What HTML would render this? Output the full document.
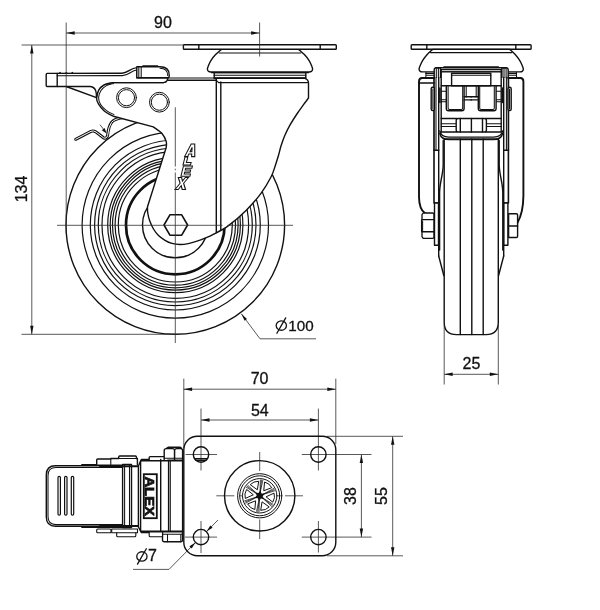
<!DOCTYPE html>
<html><head><meta charset="utf-8"><title>Caster drawing</title>
<style>
html,body{margin:0;padding:0;background:#fff;}
body{width:600px;height:610px;overflow:hidden;font-family:"Liberation Sans",sans-serif;}
svg{display:block;filter:grayscale(1);}
svg text{font-family:"Liberation Sans",sans-serif;fill:#111;}
.n{stroke:#111;stroke-width:0.3;}
.m{fill:none;stroke:#111;stroke-width:1.4;stroke-linecap:round;stroke-linejoin:round;}
.w{fill:#fff;stroke:#111;stroke-width:1.4;stroke-linecap:round;stroke-linejoin:round;}
.t{fill:none;stroke:#111;stroke-width:1.05;stroke-linecap:round;stroke-linejoin:round;}
.d{fill:none;stroke:#2e2e2e;stroke-width:0.8;}
.c{fill:none;stroke:#2e2e2e;stroke-width:0.8;}
</style></head><body>
<svg width="600" height="610" viewBox="0 0 600 610">
<rect x="0" y="0" width="600" height="610" fill="#fff"/>
<g id="side">
<circle class="w" cx="175.3" cy="225.0" r="109.3"/>
<circle class="m" cx="175.3" cy="225.0" r="93.2" style="stroke-width:1.2"/>
<circle class="m" cx="175.3" cy="225.0" r="85" style="stroke-width:1.2"/>
<circle class="m" cx="175.3" cy="225.0" r="80.7" style="stroke-width:1.2"/>
<circle class="m" cx="175.3" cy="225.0" r="77" style="stroke-width:1.2"/>
<circle class="m" cx="175.3" cy="225.0" r="73.3" style="stroke-width:1.2"/>
<circle class="m" cx="175.3" cy="225.0" r="67.6" style="stroke-width:1.2"/>
<circle class="m" cx="175.3" cy="225.0" r="65.1" style="stroke-width:1.2"/>
<circle class="m" cx="175.3" cy="225.0" r="62.8" style="stroke-width:1.2"/>
<circle class="m" cx="175.3" cy="225.0" r="60.2" style="stroke-width:1.2"/>
<circle class="m" cx="175.3" cy="225.0" r="57.0" style="stroke-width:1.2"/>
<circle class="m" cx="175.3" cy="225.0" r="49.3" style="stroke-width:2.7"/>
<circle class="m" cx="175.3" cy="225.0" r="32.8"/>
<path d="M75.7,139.3 L91,131.3 Q93.5,130.3 96,132 L103.5,137.8 Q106.6,139.3 107.6,135.5 Q108.3,127 111.5,122.4 Q114.5,118.8 123,117.6" fill="none" stroke="#111" stroke-width="3.0" stroke-linecap="round" stroke-linejoin="round"/>
<path d="M75.7,139.3 L91,131.3 Q93.5,130.3 96,132 L103.5,137.8 Q106.6,139.3 107.6,135.5 Q108.3,127 111.5,122.4 Q114.5,118.8 123,117.6" fill="none" stroke="#fff" stroke-width="1.0" stroke-linecap="round" stroke-linejoin="round"/>
<line x1="100.00" y1="124.70" x2="105.50" y2="131.80" stroke="#222" stroke-width="0.8"/>
<polygon points="106.60,133.40 101.80,130.17 104.63,127.96" fill="#111" stroke="none"/>
<path class="w" d="M112,82.6 L163.5,82.6 Q166.2,82.4 167.2,80.3 L216.3,80.3 L216.3,78.2 L304.5,78.2 Q308.3,79.5 308.5,83 L308.5,98 C307.67,99.12 305.43,102.03 303.50,104.70 C301.57,107.37 299.12,110.67 296.90,114.00 C294.68,117.33 292.20,121.15 290.20,124.70 C288.20,128.25 286.43,131.75 284.90,135.30 C283.37,138.85 282.05,142.72 281.00,146.00 C279.95,149.28 279.52,151.83 278.60,155.00 C277.68,158.17 276.77,161.33 275.50,165.00 C274.23,168.67 273.42,172.28 271.00,177.00 C268.58,181.72 265.20,187.68 261.00,193.30 C256.80,198.92 251.22,205.32 245.80,210.70 C240.38,216.08 233.92,221.65 228.50,225.60 C223.08,229.55 217.22,232.30 213.30,234.40 C209.38,236.50 207.72,237.07 205.00,238.20 C202.28,239.33 199.78,240.30 197.00,241.20 C194.22,242.10 191.13,243.05 188.30,243.60 C185.47,244.15 182.72,244.53 180.00,244.50 C177.28,244.47 174.50,244.10 172.00,243.40 C169.50,242.70 167.25,241.62 165.00,240.30 C162.75,238.98 160.42,237.38 158.50,235.50 C156.58,233.62 154.98,231.50 153.50,229.00 C152.02,226.50 150.57,223.25 149.60,220.50 C148.63,217.75 148.05,214.80 147.70,212.50 C147.35,210.20 147.53,207.67 147.50,206.70 L166.2,147.5 C166.20,146.50 166.90,143.83 166.20,141.50 C165.50,139.17 164.15,135.93 162.00,133.50 C159.85,131.07 154.75,128.00 153.30,126.90 L113.3,116.2 C111.83,115.37 106.95,113.20 104.50,111.20 C102.05,109.20 99.93,106.47 98.60,104.20 C97.27,101.93 96.48,99.97 96.50,97.60 C96.52,95.23 97.45,92.13 98.70,90.00 C99.95,87.87 101.78,86.03 104.00,84.80 C106.22,83.57 110.67,82.97 112.00,82.60Z"/>
<path class="t" d="M113.50,83.40 C112.33,83.77 108.58,84.42 106.50,85.60 C104.42,86.78 102.32,88.50 101.00,90.50 C99.68,92.50 98.67,95.25 98.60,97.60 C98.53,99.95 99.28,102.43 100.60,104.60 C101.92,106.77 104.27,108.93 106.50,110.60 C108.73,112.27 112.75,113.93 114.00,114.60"/>
<line x1="216.30" y1="80.30" x2="216.30" y2="232.50" class="m"/>
<line x1="220.80" y1="82.00" x2="220.80" y2="230.30" class="m"/>
<path class="t" d="M216.3,80.3 L218.5,82.4"/><path class="m" d="M218.5,82.6 L307.5,82.6"/>
<circle class="m" cx="126.5" cy="97.7" r="9.9" style="stroke-width:1.0"/>
<circle class="m" cx="126.5" cy="97.7" r="8.1" style="stroke-width:1.0"/>
<circle class="m" cx="159.4" cy="102.2" r="9.9" style="stroke-width:1.0"/>
<circle class="m" cx="159.4" cy="102.2" r="8.1" style="stroke-width:1.0"/>
<polygon class="w" points="187.60,225.00 181.70,235.22 169.90,235.22 164.00,225.00 169.90,214.78 181.70,214.78" style="stroke-width:1.6"/>
<path class="w" d="M47.2,73.4 L122,73.2 C128,73.2 130,68 137,67.6 L136.8,77.8 L168,77.8 L167.2,80.3 Q166.2,82.4 163.5,82.6 L112,82.6  C110.67,82.97 106.22,83.57 104.00,84.80 C101.78,86.03 99.95,87.87 98.70,90.00 C97.45,92.13 96.87,96.33 96.50,97.60 L66.2,86.5 L47.2,86.5 Q46.2,86.5 46.2,85.5 L46.2,74.4 Q46.2,73.4 47.2,73.4 Z"/>
<path class="m" d="M57.2,73.4 L57.2,86.5"/>
<path class="t" d="M57.2,75.7 L122.5,75.6 C129,75.6 131,70.4 137,70"/>
<path class="m" d="M66.2,86.5 L90.5,86.5 Q95.8,87.2 96.3,93.5 L96.5,97.6"/>
<path class="t" d="M59.3,73.2 l0.7,-0.9 l0.7,0.9 M65.6,73.2 l0.7,-0.9 l0.7,0.9 M71.6,73.2 l0.7,-0.9 l0.7,0.9"/>
<path class="w" d="M136.8,77.8 L136.8,66.8 L160,66.8 Q169.2,66.8 169.2,75 L169.2,76.3 Q169.2,77.8 167.5,77.8 Z"/>
<path class="t" d="M160,68.3 Q167.6,68.5 167.7,75.5"/>
<line x1="138.80" y1="66.80" x2="138.80" y2="77.80" class="t"/>
<line x1="141.20" y1="66.80" x2="141.20" y2="77.80" class="t"/>
<line x1="143.00" y1="66.20" x2="157.50" y2="66.20" class="m" style="stroke-width:1.7"/>
<line x1="168.50" y1="78.00" x2="216.30" y2="78.00" class="m" style="stroke-width:1.1"/>
<path class="w" d="M214.2,78.2 L214.2,72.5 L305.8,72.5 L305.8,78.2 Z"/>
<line x1="211.50" y1="72.20" x2="308.50" y2="72.20" class="m" style="stroke-width:2.0"/>
<line x1="214.20" y1="75.30" x2="305.80" y2="75.30" class="m" style="stroke-width:1.1"/>
<line x1="214.20" y1="77.90" x2="305.80" y2="77.90" class="m" style="stroke-width:1.1"/>
<path class="w" d="M221.30,49.40 C220.35,50.27 217.28,52.80 215.60,54.60 C213.92,56.40 212.38,58.38 211.20,60.20 C210.02,62.02 209.13,64.00 208.50,65.50 C207.87,67.00 207.38,68.22 207.40,69.20 C207.42,70.18 207.92,70.93 208.60,71.40 C209.28,71.87 211.02,71.90 211.50,72.00 L308.5,72.0  C308.98,71.90 310.72,71.87 311.40,71.40 C312.08,70.93 312.58,70.18 312.60,69.20 C312.62,68.22 312.13,67.00 311.50,65.50 C310.87,64.00 309.98,62.02 308.80,60.20 C307.62,58.38 306.08,56.40 304.40,54.60 C302.72,52.80 299.65,50.27 298.70,49.40 Z"/>
<line x1="219.20" y1="52.90" x2="300.80" y2="52.90" class="t"/>
<rect class="w" x="183.4" y="44.8" width="152.9" height="4.4" rx="0.8"/>
<line x1="198.80" y1="44.80" x2="198.80" y2="49.20" class="m"/>
<line x1="320.20" y1="44.80" x2="320.20" y2="49.20" class="m"/>
<path transform="translate(184.6,156.6) skewX(-14)" fill="#fff" stroke="#111" stroke-width="1.05" stroke-linejoin="miter" fill-rule="evenodd" d="M0,0 L3.4,-12.6 L7.0,-12.6 L10.2,0 L7.0,0 L6.5,-2.6 L3.6,-2.6 L3.1,0 Z M4.2,-4.9 L6.0,-4.9 L5.2,-9.2 Z"/>
<path transform="translate(183.0,165.0) skewX(-14)" fill="#fff" stroke="#111" stroke-width="1.05" stroke-linejoin="miter" fill-rule="evenodd" d="M0,0 L0,-8 L2.8,-8 L2.8,-2.5 L7.5,-2.5 L7.5,0 Z"/>
<path transform="translate(180.9,176.2) skewX(-14)" fill="#fff" stroke="#111" stroke-width="1.05" stroke-linejoin="miter" fill-rule="evenodd" d="M0,0 L0,-10.2 L9,-10.2 L9,-8 L2.8,-8 L2.8,-6.2 L8.2,-6.2 L8.2,-4.1 L2.8,-4.1 L2.8,-2.2 L9,-2.2 L9,0 Z"/>
<path transform="translate(175.0,189.4) skewX(-14)" fill="#fff" stroke="#111" stroke-width="1.05" stroke-linejoin="miter" fill-rule="evenodd" d="M0,0 L3.6,-6.1 L0.3,-12 L3.6,-12 L5.4,-8.4 L7.3,-12 L10.5,-12 L7.1,-6.1 L10.5,0 L7.2,0 L5.3,-3.7 L3.3,0 Z"/>
<g class="d">
<line x1="66.20" y1="22.50" x2="66.20" y2="233.00" />
<line x1="259.60" y1="22.50" x2="259.60" y2="56.50" />
<line x1="66.20" y1="33.00" x2="259.60" y2="33.00" />
<line x1="21.50" y1="45.00" x2="184.00" y2="45.00" />
<line x1="21.50" y1="334.30" x2="176.00" y2="334.30" />
<line x1="31.80" y1="45.00" x2="31.80" y2="334.30" />
<polyline points="241.3,313.8 260,338.8 316,338.8"/>
</g>
<polygon points="66.20,33.00 74.70,31.30 74.70,34.70" fill="#111" stroke="none"/>
<polygon points="259.60,33.00 251.10,34.70 251.10,31.30" fill="#111" stroke="none"/>
<polygon points="31.80,45.00 33.50,53.50 30.10,53.50" fill="#111" stroke="none"/>
<polygon points="31.80,334.30 30.10,325.80 33.50,325.80" fill="#111" stroke="none"/>
<polygon points="241.30,313.80 246.99,318.91 244.59,320.70" fill="#111" stroke="none"/>
<text class="n" x="163.00" y="28.00" font-size="16" text-anchor="middle">90</text>
<text class="n" x="26.70" y="189.00" font-size="16" text-anchor="middle" transform="rotate(-90 26.70 189.00)">134</text>
<g fill="none" stroke="#111" stroke-width="1.3" stroke-linecap="round"><ellipse cx="281.30" cy="325.60" rx="5.15" ry="4.65"/><line x1="276.90" y1="333.30" x2="285.70" y2="317.90"/></g>
<text class="n" x="301.00" y="330.70" font-size="15.2" text-anchor="middle">100</text>
<g class="c">
<line x1="57.00" y1="225.30" x2="293.00" y2="225.30" stroke-dasharray="165.4 5 70"/>
<line x1="175.30" y1="107.30" x2="175.30" y2="343.00" stroke-dasharray="59.2 2.2 1.6 2.2 200"/>
</g>
</g>
<g id="right">
<path class="w" d="M444.2,139 L444.2,322.5 Q444.2,334.6 456.5,334.6 L486,334.6 Q498.3,334.6 498.3,322.5 L498.3,139 Z"/>
<line x1="460.30" y1="139.00" x2="460.30" y2="334.60" class="m"/>
<line x1="471.80" y1="139.00" x2="471.80" y2="334.60" class="m"/>
<line x1="483.20" y1="139.00" x2="483.20" y2="334.60" class="m"/>
<rect class="w" x="411.2" y="44.7" width="119.9" height="4.5" rx="0.8"/>
<line x1="426.80" y1="44.70" x2="426.80" y2="49.20" class="m"/>
<line x1="515.80" y1="44.70" x2="515.80" y2="49.20" class="m"/>
<path class="w" d="M432.70,49.40 C431.78,50.25 428.83,52.70 427.20,54.50 C425.57,56.30 424.07,58.37 422.90,60.20 C421.73,62.03 420.83,64.00 420.20,65.50 C419.57,67.00 419.10,68.23 419.10,69.20 C419.10,70.17 419.55,70.85 420.20,71.30 C420.85,71.75 422.53,71.80 423.00,71.90 L519.40,71.9  C519.87,71.80 521.55,71.75 522.20,71.30 C522.85,70.85 523.30,70.17 523.30,69.20 C523.30,68.23 522.83,67.00 522.20,65.50 C521.57,64.00 520.67,62.03 519.50,60.20 C518.33,58.37 516.83,56.30 515.20,54.50 C513.57,52.70 510.62,50.25 509.70,49.40 Z"/>
<line x1="430.40" y1="52.60" x2="512.00" y2="52.60" class="t"/>
<g id="rh">
<path class="m" d="M426,73.4 L434.2,73.4"/><path class="t" d="M426,72.3 L425.8,78 M426,75.2 L434.2,75.2"/>
<path class="w" d="M434.2,77.4 L434.2,69.6 Q434.3,67.7 436.3,67.7 L440.5,67.7 L440.5,77.4"/>
<line x1="436.30" y1="67.70" x2="436.30" y2="77.40" class="t"/>
<line x1="438.40" y1="67.70" x2="438.40" y2="77.40" class="t"/>
<line x1="434.00" y1="77.40" x2="434.00" y2="150.20" class="m" style="stroke-width:1.7"/>
<line x1="436.00" y1="77.40" x2="436.00" y2="150.20" class="t"/>
<line x1="438.70" y1="77.40" x2="438.70" y2="256.00" class="m"/>
<line x1="441.20" y1="69.50" x2="441.20" y2="132.00" class="m"/>
<rect class="w" x="431.2" y="87.3" width="3.2" height="23.3" rx="1.5"/>
<line x1="432.90" y1="89.00" x2="432.90" y2="109.00" class="t"/>
<line x1="439.90" y1="88.00" x2="439.90" y2="102.50" class="m" style="stroke-width:1.6"/>
<path class="t" d="M441.2,91.3 L446.3,91.3 M441.2,99.7 L446.3,99.7 M441.2,101.8 L446.3,101.8"/>
<path class="w" d="M446.3,85.8 L446.3,108.6 Q446.3,110.8 448.5,110.8 L461.9,110.8 Q464.1,110.8 464.1,108.6 L464.1,85.8"/>
<path class="t" d="M448.1,86.5 L448.1,108 Q448.1,109.4 449.5,109.4 L461.3,109.4 Q462.7,109.4 462.7,108 L462.7,86.5"/>
<path class="m" d="M464.1,96.8 L471.4,96.8 M464.1,99.9 L471.4,99.9"/>
<line x1="466.20" y1="85.80" x2="466.20" y2="96.90" class="t"/>
<path class="m" d="M441.2,118.5 L457,118.5 M441.2,132.0 L457,132.0"/>
<path class="t" d="M441.2,123.8 L455.8,123.8 M441.2,126.5 L455.8,126.5"/>
<path class="m" d="M434.0,150.3 L438.7,150.3 M434.0,150.3 L434.0,203 L438.7,203" style="stroke-width:1.6"/>
<rect class="w" x="434.5" y="203" width="4.0" height="42.2"/>
<path class="m" d="M438.7,256 L443.8,275.5"/>
<path class="m" d="M443.2,140.5 L443.2,165 C443,175 439.8,182 439.6,192 L439.6,250"/>
</g>
<use href="#rh" transform="translate(942.40,0) scale(-1,1)"/>
<path class="m" d="M419,83 L434.2,83"/>
<path class="m" d="M434.2,78 L422,78 Q419,78.2 419,81.5 L419,197 C419.1,205 421,210.5 425,213.2" style="stroke-width:1.9"/>
<path class="w" d="M423.2,213 L432.6,213 Q433.9,213 433.9,214.3 L433.9,236.9 Q433.9,238.3 432.6,238.3 L423.2,238.3 L422,236.6 L422,232 L421.6,231 L421.6,220.4 L422,219.4 L422,214.7 Z" style="stroke-width:1.3"/>
<path class="m" d="M422,219.6 L433.9,219.6 M422,231.8 L433.9,231.8"/>
<line x1="422.60" y1="221.00" x2="422.60" y2="230.50" class="t"/>
<path class="m" d="M508.2,78 L520.4,78 Q523.4,78.2 523.4,81.5 L523.4,196 C523.3,207 521.2,216 517.6,222.6" style="stroke-width:1.9"/>
<path class="w" d="M508.6,213.8 L516.3,213.8 Q517.6,213.8 517.6,215.1 L517.6,236.2 Q517.6,237.5 516.3,237.5 L508.6,237.5 Z"/>
<path class="m" d="M508.6,226 L517.6,226"/>
<path class="m" d="M436.3,67.7 L506.1,67.7" />
<line x1="444.00" y1="66.90" x2="498.40" y2="66.90" class="m" style="stroke-width:1.5"/>
<line x1="441.20" y1="69.50" x2="501.20" y2="69.50" class="t"/>
<line x1="441.20" y1="71.20" x2="501.20" y2="71.20" class="t"/>
<rect class="w" x="451.6" y="73.2" width="39.2" height="12.6"/>
<line x1="451.60" y1="75.30" x2="490.80" y2="75.30" class="t"/>
<line x1="441.20" y1="85.80" x2="501.20" y2="85.80" class="m"/>
<rect class="w" x="456.2" y="118.5" width="30.2" height="13.5" rx="2"/>
<line x1="460.30" y1="118.50" x2="460.30" y2="132.00" class="m"/>
<line x1="471.40" y1="118.50" x2="471.40" y2="132.00" class="m"/>
<line x1="482.50" y1="118.50" x2="482.50" y2="132.00" class="m"/>
<path class="m" d="M439.8,131 C440.5,135.5 443.5,137 449,137.1 L493.4,137.1 C498.9,137 501.9,135.5 502.6,131"/>
<path class="m" d="M439.8,133.5 C440.8,138.2 443.8,139.5 449,139.6 L493.4,139.6 C498.6,139.5 501.6,138.2 502.6,133.5"/>
<g class="d">
<line x1="444.20" y1="325.00" x2="444.20" y2="384.50" />
<line x1="498.30" y1="325.00" x2="498.30" y2="384.50" />
<line x1="444.20" y1="374.30" x2="498.30" y2="374.30" />
</g>
<polygon points="444.20,374.30 452.70,372.60 452.70,376.00" fill="#111" stroke="none"/>
<polygon points="498.30,374.30 489.80,376.00 489.80,372.60" fill="#111" stroke="none"/>
<text class="n" x="471.40" y="368.60" font-size="16" text-anchor="middle">25</text>
</g>
<g id="bottom">
<g class="d">
<line x1="183.80" y1="378.60" x2="183.80" y2="448.00" />
<line x1="335.80" y1="378.60" x2="335.80" y2="444.00" />
<line x1="183.60" y1="389.20" x2="335.80" y2="389.20" />
<line x1="201.00" y1="408.60" x2="201.00" y2="470.50" />
<line x1="318.40" y1="408.60" x2="318.40" y2="470.50" />
<line x1="201.00" y1="420.00" x2="318.40" y2="420.00" />
<line x1="327.00" y1="436.30" x2="403.00" y2="436.30" />
<line x1="327.00" y1="555.80" x2="403.00" y2="555.80" />
<line x1="392.70" y1="436.30" x2="392.70" y2="555.80" />
<line x1="301.80" y1="454.50" x2="371.50" y2="454.50" />
<line x1="301.80" y1="537.10" x2="371.50" y2="537.10" />
<line x1="361.40" y1="454.50" x2="361.40" y2="537.10" />
<line x1="185.50" y1="454.50" x2="217.00" y2="454.50" />
<line x1="185.00" y1="537.10" x2="217.00" y2="537.10" />
<line x1="201.00" y1="521.00" x2="201.00" y2="553.00" />
<line x1="318.40" y1="521.00" x2="318.40" y2="552.50" />
<line x1="216.30" y1="495.80" x2="234.30" y2="495.80" />
<line x1="285.00" y1="495.80" x2="303.00" y2="495.80" />
<line x1="259.70" y1="452.00" x2="259.70" y2="471.00" />
<line x1="259.70" y1="519.50" x2="259.70" y2="539.00" />
<line x1="239.00" y1="495.80" x2="280.40" y2="495.80" stroke-dasharray="3 35.4 3"/>
<polyline points="133,569.4 169,569.4 195.4,542.6"/>
<line x1="206.60" y1="531.50" x2="218.00" y2="520.00" />
</g>
<polygon points="183.60,389.20 192.10,387.50 192.10,390.90" fill="#111" stroke="none"/>
<polygon points="335.80,389.20 327.30,390.90 327.30,387.50" fill="#111" stroke="none"/>
<polygon points="201.00,420.00 209.50,418.30 209.50,421.70" fill="#111" stroke="none"/>
<polygon points="318.40,420.00 309.90,421.70 309.90,418.30" fill="#111" stroke="none"/>
<polygon points="392.70,436.30 394.40,444.80 391.00,444.80" fill="#111" stroke="none"/>
<polygon points="392.70,555.80 391.00,547.30 394.40,547.30" fill="#111" stroke="none"/>
<polygon points="361.40,454.50 363.10,463.00 359.70,463.00" fill="#111" stroke="none"/>
<polygon points="361.40,537.10 359.70,528.60 363.10,528.60" fill="#111" stroke="none"/>
<polygon points="195.50,542.50 191.68,548.58 189.42,546.32" fill="#111" stroke="none"/>
<polygon points="206.50,531.60 210.32,525.52 212.58,527.78" fill="#111" stroke="none"/>
<text class="n" x="259.60" y="384.00" font-size="16" text-anchor="middle">70</text>
<text class="n" x="259.80" y="415.60" font-size="16" text-anchor="middle">54</text>
<text class="n" x="355.90" y="496.00" font-size="16" text-anchor="middle" transform="rotate(-90 355.90 496.00)">38</text>
<text class="n" x="387.00" y="496.00" font-size="16" text-anchor="middle" transform="rotate(-90 387.00 496.00)">55</text>
<g fill="none" stroke="#111" stroke-width="1.3" stroke-linecap="round"><ellipse cx="141.90" cy="556.40" rx="5.15" ry="4.65"/><line x1="137.50" y1="564.10" x2="146.30" y2="548.70"/></g>
<text class="n" x="152.50" y="561.20" font-size="16" text-anchor="middle">7</text>
<rect class="m" x="183.8" y="436.3" width="152.0" height="119.5" rx="13.5"/>
<circle class="m" cx="201.0" cy="454.5" r="7.7"/>
<circle class="m" cx="318.4" cy="454.5" r="7.7"/>
<circle class="m" cx="201.0" cy="537.1" r="7.7"/>
<circle class="m" cx="318.4" cy="537.1" r="7.7"/>
<path class="t" d="M194.6,458.6 L207.4,458.6"/><path class="m" d="M196,460.3 L206,460.3" style="stroke-width:1.5"/>
<circle class="m" cx="259.7" cy="495.8" r="35.2"/>
<circle class="m" cx="259.7" cy="495.8" r="22.1" style="stroke-width:1.0"/>
<circle class="m" cx="259.7" cy="495.8" r="20.0" style="stroke-width:1.0"/>
<circle class="m" cx="259.7" cy="495.8" r="17.2" style="stroke-width:1.0"/>
<path class="t" d="M263.79,490.37 L264.57,482.04 Q269.27,483.10 271.59,487.32 Z" style="stroke-width:1.0"/>
<line x1="260.00" y1="493.32" x2="260.39" y2="480.02" class="t" style="stroke-width:0.75"/>
<line x1="260.00" y1="493.32" x2="261.63" y2="480.12" class="t" style="stroke-width:0.75"/>
<line x1="260.00" y1="493.32" x2="262.85" y2="480.32" class="t" style="stroke-width:0.75"/>
<path class="t" d="M266.45,496.63 L274.06,493.14 Q275.48,497.74 272.99,501.85 Z" style="stroke-width:1.0"/>
<line x1="262.00" y1="494.82" x2="273.71" y2="488.50" class="t" style="stroke-width:0.75"/>
<line x1="262.00" y1="494.82" x2="274.24" y2="489.63" class="t" style="stroke-width:0.75"/>
<line x1="262.00" y1="494.82" x2="274.68" y2="490.79" class="t" style="stroke-width:0.75"/>
<path class="t" d="M262.36,502.06 L269.18,506.90 Q265.91,510.44 261.10,510.33 Z" style="stroke-width:1.0"/>
<line x1="261.70" y1="497.30" x2="273.03" y2="504.29" class="t" style="stroke-width:0.75"/>
<line x1="261.70" y1="497.30" x2="272.32" y2="505.31" class="t" style="stroke-width:0.75"/>
<line x1="261.70" y1="497.30" x2="271.53" y2="506.27" class="t" style="stroke-width:0.75"/>
<path class="t" d="M255.61,501.23 L254.83,509.56 Q250.13,508.50 247.81,504.28 Z" style="stroke-width:1.0"/>
<line x1="259.40" y1="498.28" x2="259.01" y2="511.58" class="t" style="stroke-width:0.75"/>
<line x1="259.40" y1="498.28" x2="257.77" y2="511.48" class="t" style="stroke-width:0.75"/>
<line x1="259.40" y1="498.28" x2="256.55" y2="511.28" class="t" style="stroke-width:0.75"/>
<path class="t" d="M252.95,494.97 L245.34,498.46 Q243.92,493.86 246.41,489.75 Z" style="stroke-width:1.0"/>
<line x1="257.40" y1="496.78" x2="245.69" y2="503.10" class="t" style="stroke-width:0.75"/>
<line x1="257.40" y1="496.78" x2="245.16" y2="501.97" class="t" style="stroke-width:0.75"/>
<line x1="257.40" y1="496.78" x2="244.72" y2="500.81" class="t" style="stroke-width:0.75"/>
<path class="t" d="M257.04,489.54 L250.22,484.70 Q253.49,481.16 258.30,481.27 Z" style="stroke-width:1.0"/>
<line x1="257.70" y1="494.30" x2="246.37" y2="487.31" class="t" style="stroke-width:0.75"/>
<line x1="257.70" y1="494.30" x2="247.08" y2="486.29" class="t" style="stroke-width:0.75"/>
<line x1="257.70" y1="494.30" x2="247.87" y2="485.33" class="t" style="stroke-width:0.75"/>
<polygon points="260.36,490.44 261.51,493.40 264.67,493.69 262.68,496.17 264.01,499.05 260.87,498.56 259.04,501.16 257.89,498.20 254.73,497.91 256.72,495.43 255.39,492.55 258.53,493.04" fill="#111"/>
<path class="w" d="M122.6,465.8 L55.5,465.8 Q46.3,465.8 46.3,475 L46.3,517.1 Q46.3,526.3 55.5,526.3 L122.6,526.3"/>
<path class="t" d="M122.6,467.5 L56,467.5 Q48,467.5 48,475.5 L48,516.6 Q48,524.6 56,524.6 L122.6,524.6"/>
<rect class="t" x="58.00" y="476.3" width="2.4" height="38.8" rx="1.2" style="stroke-width:1.2"/>
<rect class="t" x="64.60" y="476.3" width="2.4" height="38.8" rx="1.2" style="stroke-width:1.2"/>
<rect class="t" x="71.30" y="476.3" width="2.4" height="38.8" rx="1.2" style="stroke-width:1.2"/>
<path class="t" d="M81.7,464.6 L122.6,464.6 M81.7,527.4 L122.6,527.4"/>
<path class="w" d="M96.7,464.6 L96.7,460 Q96.7,459 97.7,459 L110.8,459 L110.8,458.5 L118.7,458.5 L118.7,457 Q118.7,456 119.7,456 L135.4,456 Q136.4,456 136.4,457 L136.4,458.5 L137.4,458.5 L137.4,464.6"/>
<path class="t" d="M110.8,459 L110.8,464.6 M118.7,458.5 L136.4,458.5"/>
<rect class="w" x="96.7" y="529.0" width="14.3" height="3.7" rx="1" style="stroke-width:1.1"/>
<path class="w" d="M111.7,529 L137.5,529 L137.5,532.7 L135.8,532.7 L135.8,535.7 Q135.8,536.7 134.8,536.7 L117.7,536.7 Q116.7,536.7 116.7,535.7 L116.7,532.7 L111.7,532.7 Z" style="stroke-width:1.1"/>
<path class="t" d="M116.7,532.7 L135.8,532.7"/>
<rect class="w" x="122.6" y="464.4" width="8.9" height="63.2"/>
<line x1="124.60" y1="464.40" x2="124.60" y2="527.60" class="t"/>
<line x1="129.50" y1="464.40" x2="129.50" y2="527.60" class="t"/>
<path class="m" d="M100,466.2 L138.4,466.2 M100,526.0 L138.4,526.0" style="stroke-width:2.0"/>
<path class="w" d="M141.3,459.5 L149.2,459.5 L149.2,457.6 Q149.2,456.6 150.2,456.6 L166.9,456.6 Q167.9,456.6 167.9,457.6 L167.9,459.5 L182.6,459.5 L182.6,532.5 L141.3,532.5 L138.4,527 L138.4,466 Z"/>
<path class="m" d="M141.3,460.8 L182.6,460.8 M141.3,531.4 L182.6,531.4" style="stroke-width:1.6"/>
<line x1="140.60" y1="461.50" x2="140.60" y2="531.30" class="m"/>
<line x1="160.70" y1="459.50" x2="160.70" y2="532.50" class="m"/>
<line x1="168.60" y1="459.50" x2="168.60" y2="532.50" class="m"/>
<line x1="170.30" y1="459.50" x2="170.30" y2="532.50" class="t"/>
<rect x="143.8" y="474.2" width="13.0" height="44.0" fill="#fff" stroke="#111" stroke-width="1.8"/>
<text x="0" y="0" font-size="13.5" font-weight="bold" transform="translate(145.2,476.4) rotate(90)" textLength="39.6" lengthAdjust="spacingAndGlyphs" style="fill:#111;stroke:#111;stroke-width:0.7">ALEX</text>
<path class="w" d="M164.2,459.5 L164.2,450.6 Q164.2,448.6 166.2,448.6 L172.6,448.6 Q174.6,448.6 174.6,450.6 L174.6,459.5"/>
<path class="w" d="M174.6,459.5 L174.6,450.6 Q174.6,448.6 176.6,448.6 L180.6,448.6 Q182.6,448.6 182.6,450.6 L182.6,459.5"/>
<path class="m" d="M166.5,448.4 L168.6,447.2 L180.2,447.2 L181.6,448.4"/>
<path class="t" d="M164.2,458.3 L182.6,458.3"/>
<path class="w" d="M162.5,532.5 L162.5,540.3 Q162.5,541.7 164,541.7 L181,541.7 Q182.5,541.7 182.5,540.3 L182.5,532.5"/>
<path class="t" d="M167.5,534.2 L167.5,541.7 M180.8,534.2 L180.8,541.7 M162.5,534.2 L182.5,534.2"/>
<path class="w" d="M149.2,532.5 L149.2,535.7 Q149.2,536.7 150.2,536.7 L162.5,536.7 L162.5,532.5" style="stroke-width:1.1"/>
</g>
</svg>
</body></html>
